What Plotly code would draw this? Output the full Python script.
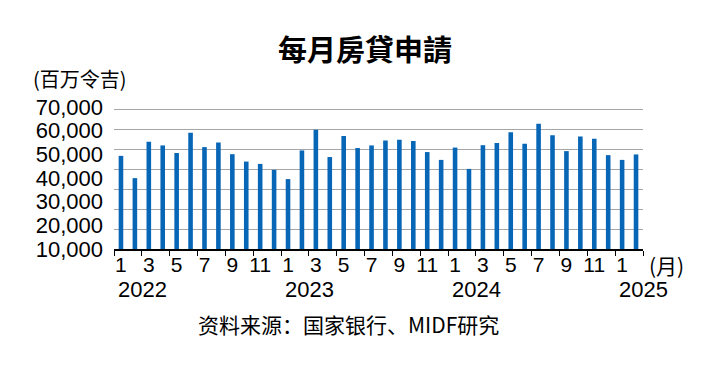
import plotly.graph_objects as go

# ---- data ----
months = [1, 2, 3, 4, 5, 6, 7, 8, 9, 10, 11, 12,
          1, 2, 3, 4, 5, 6, 7, 8, 9, 10, 11, 12,
          1, 2, 3, 4, 5, 6, 7, 8, 9, 10, 11, 12,
          1, 2]
years = [2022] * 12 + [2023] * 12 + [2024] * 12 + [2025] * 2
applications = [49300, 39900, 55300, 53700, 50500, 59100, 53000, 54900, 50000, 46900, 45900, 43400,
                39500, 51600, 60300, 48800, 57700, 52600, 53700, 55800, 56100, 55600, 50900, 47600,
                52800, 43800, 53800, 54700, 59300, 54400, 62800, 58000, 51300, 57500, 56500, 49600,
                47600, 49900]
y_ticks = [10000, 20000, 30000, 40000, 50000, 60000, 70000]
year_labels = [2022, 2023, 2024, 2025]

title_text = "每月房貸申請"
unit_text = "(百万令吉)"
month_unit = "(月)"
source_text = "资料来源：国家银行、MIDF研究"

# ---- build ----
x = list(range(len(applications)))
n = len(applications)
label_idx = [i for i, m in enumerate(months) if m % 2 == 1]
boundaries = [i - 0.5 for i in range(0, n + 1, 2)]

LAT = "Liberation Sans, Arial, Helvetica, sans-serif"
CJK_SC = "Noto Sans CJK SC, sans-serif"
CJK_TC = "Noto Sans CJK TC, sans-serif"

fig = go.Figure()
fig.add_trace(go.Bar(
    x=x, y=applications, width=0.33,
    marker=dict(color="#0866b6", line=dict(width=0)),
    yaxis="y", showlegend=False,
))
# invisible helper trace for grid axis
fig.add_trace(go.Scatter(x=[0], y=[0], yaxis="y2", mode="markers",
                         marker=dict(opacity=0), showlegend=False, hoverinfo="skip"))

fig.update_layout(
    width=709, height=369,
    margin=dict(l=114, r=66, t=100, b=120),
    paper_bgcolor="white", plot_bgcolor="white",
    font=dict(family=LAT, size=22, color="black"),
    xaxis=dict(
        range=[-0.5, n - 0.5],
        tickmode="array", tickvals=label_idx,
        ticktext=[str(months[i]) for i in label_idx],
        ticks="", showline=True, linecolor="black", linewidth=1.5,
        showgrid=False, zeroline=False,
        tickfont=dict(family=LAT, size=21),
        ticklabelstandoff=-4,
        minor=dict(tickmode="array", tickvals=boundaries, ticks="outside",
                   ticklen=5, tickwidth=1.2, tickcolor="black", showgrid=False),
    ),
    yaxis=dict(
        range=[10000, 72870],
        tickmode="array", tickvals=y_ticks, tickformat=",",
        showgrid=False, zeroline=False, showline=False, ticks="",
        tickfont=dict(family=LAT, size=22),
        ticklabelstandoff=10,
    ),
    yaxis2=dict(
        range=[0, 74660], overlaying="y", side="left",
        dtick=10000, tick0=0, showgrid=True, gridcolor="#a6a6a6", gridwidth=1.2,
        showticklabels=False, ticks="", zeroline=False, showline=False,
    ),
)

# title
fig.add_annotation(text="<b>" + title_text + "</b>", xref="paper", yref="paper",
                   x=0.475, y=1.35, xanchor="center", yanchor="middle", showarrow=False,
                   font=dict(family=CJK_TC, size=29, color="black"))
# unit
fig.add_annotation(text=unit_text, xref="paper", yref="paper",
                   x=-0.064, y=1.145, xanchor="center", yanchor="middle", showarrow=False,
                   font=dict(family=CJK_SC, size=20, color="black"))
# month unit
fig.add_annotation(text=month_unit, xref="paper", yref="paper",
                   x=1.044, y=-0.107, xanchor="center", yanchor="middle", showarrow=False,
                   font=dict(family=CJK_SC, size=21, color="black"))
# year labels (positioned relative to the January of each year)
for yr in year_labels:
    start = years.index(yr)
    xp = (start + 1.55 + 0.5) / n
    fig.add_annotation(text=str(yr), xref="paper", yref="paper",
                       x=xp, y=-0.27, xanchor="center", yanchor="middle",
                       showarrow=False, font=dict(family=LAT, size=22, color="black"))
# source
fig.add_annotation(text=source_text, xref="paper", yref="paper",
                   x=0.444, y=-0.503, xanchor="center", yanchor="middle", showarrow=False,
                   font=dict(family=CJK_SC, size=21, color="black"))

fig.write_html("out.html")
